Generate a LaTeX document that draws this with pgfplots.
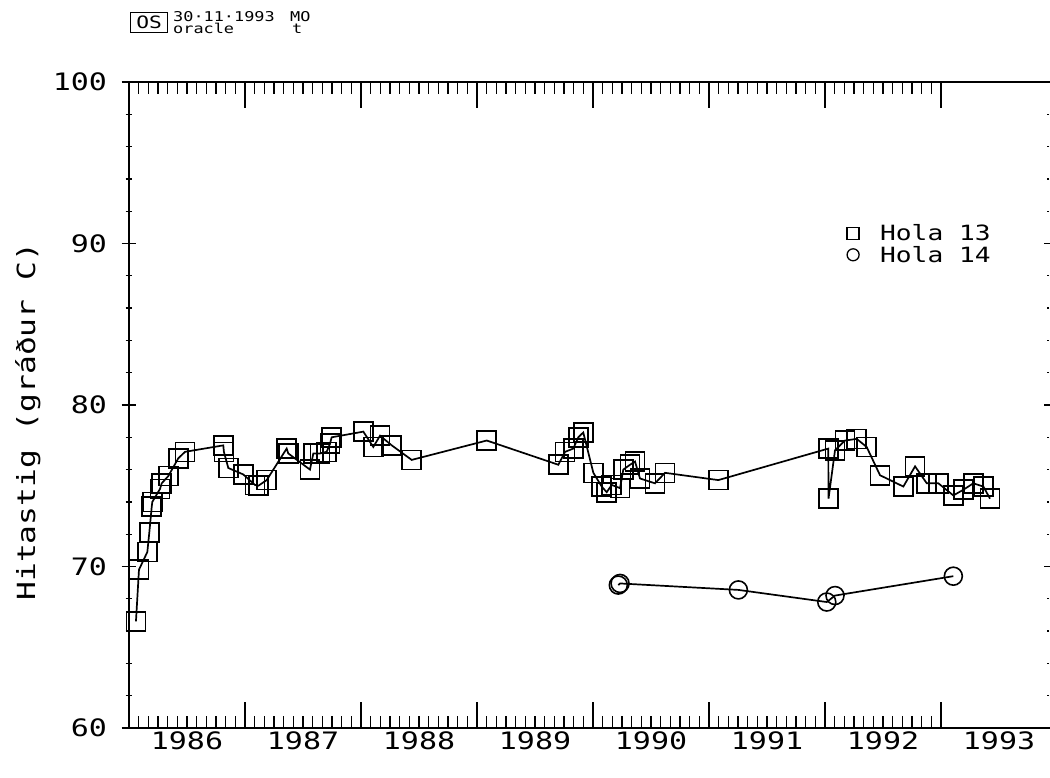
\documentclass[border=0pt]{standalone}
\usepackage{fontspec}
\setmainfont{DejaVu Sans Mono}[FakeStretch=1.25]
\usepackage{pgfplots}
\pgfplotsset{compat=1.18}
\pgfplotsset{common/.style={width=919pt, height=646pt, scale only axis,
  xmin=1986, xmax=1993.922, ymin=60, ymax=100,
  tick style={line width=1.3pt, black},
  tick align=inside}}
\begin{document}
\begin{tikzpicture}
% main axis: x axis (top + bottom) and data
\begin{axis}[common, name=ax,
  axis x line=box, axis y line=none,
  x axis line style={-, line width=1.5pt},
  xtick={1986,1987,1988,1989,1990,1991,1992,1993},
  xticklabels={1986,1987,1988,1989,1990,1991,1992,1993},
  minor x tick num=11,
  major tick length=26pt, minor tick length=12pt,
  xticklabel style={xshift=58pt, font=\fontsize{24}{28}\selectfont},
  legend style={draw=none, fill=none, at={(rel axis cs:0.779,0.786)}, anchor=north west,
    font=\fontsize{21}{25}\selectfont, row sep=0pt, inner sep=2pt,
    /tikz/every odd column/.style={column sep=19pt}},
  legend cell align=left,
]
\addplot[black, line width=1.7pt, mark=square, mark size=9.5pt, mark options={line width=1.6pt}, forget plot] coordinates {
(1986.060,66.6) (1986.086,69.8) (1986.158,70.9) (1986.175,72.1) (1986.196,73.7)
(1986.201,74.0) (1986.267,74.8) (1986.282,75.15) (1986.339,75.6) (1986.425,76.7)
(1986.483,77.1) (1986.813,77.5) (1986.818,77.1) (1986.856,76.1) (1986.985,75.7)
(1987.086,75.05) (1987.115,75.0) (1987.187,75.35) (1987.359,77.3) (1987.373,77.0)
(1987.560,76.0) (1987.589,77.0) (1987.647,77.0) (1987.704,77.1) (1987.733,77.6)
(1987.747,78.0) (1988.020,78.35) (1988.106,77.4) (1988.164,78.1) (1988.265,77.5)
(1988.437,76.6) (1989.084,77.8) (1989.701,76.3) (1989.759,77.1) (1989.830,77.3)
(1989.873,78.0) (1989.916,78.3) (1990.003,75.8) (1990.075,74.95) (1990.118,74.6)
(1990.161,75.05) (1990.233,74.85) (1990.261,76.0) (1990.319,76.3) (1990.362,76.5)
(1990.405,75.45) (1990.534,75.15) (1990.621,75.8) (1991.080,75.35) (1992.028,77.3)
(1992.030,74.2) (1992.086,77.2) (1992.172,77.8) (1992.273,77.9) (1992.359,77.4)
(1992.474,75.65) (1992.675,74.95) (1992.776,76.2) (1992.877,75.15) (1992.977,75.15)
(1993.106,74.4) (1993.192,74.75) (1993.278,75.15) (1993.365,74.95) (1993.422,74.2)
};
\addplot[black, line width=1.7pt, mark=o, mark size=9pt, mark options={line width=1.6pt}, forget plot] coordinates {
(1990.218,68.85) (1990.233,68.95) (1991.253,68.55) (1992.015,67.8) (1992.086,68.2) (1993.106,69.4)
};
\addlegendimage{only marks, black, mark=square, mark size=6pt, mark options={line width=1.3pt}}
\addlegendentry{Hola 13}
\addlegendimage{only marks, black, mark=o, mark size=6pt, mark options={line width=1.3pt}}
\addlegendentry{Hola 14}
\end{axis}
% left y axis
\begin{axis}[common,
  axis x line=none, axis y line=left,
  y axis line style={-, line width=1.5pt},
  every outer y axis line/.append style={-},
  ytick={60,70,80,90,100}, yticklabels={60,70,80,90,100},
  minor y tick num=4,
  major tick length=15pt, minor tick length=7pt,
  yticklabel style={xshift=-11pt, font=\fontsize{24}{28}\selectfont},
  ylabel={Hitastig (gráður C)},
  ylabel style={at={(rel axis cs:-0.11,0.474)}, anchor=center, rotate=0, font=\fontsize{25}{30}\selectfont},
]
\end{axis}
% right y ticks (no line)
\begin{axis}[common,
  axis x line=none, axis y line=right, y axis line style={draw=none},
  ytick={60,70,80,90,100}, yticklabels={},
  minor y tick num=4,
  major tick length=9pt, minor tick length=2pt,
]
\end{axis}
% header
\node[draw, line width=1.3pt, minimum width=37pt, minimum height=20pt, inner sep=0pt, anchor=south west,
  font=\fontsize{17}{17}\selectfont] at ([xshift=1pt,yshift=49pt]ax.north west) {OS};
\node[anchor=base west, inner sep=0pt, font=\fontsize{13.5}{14}\selectfont] at ([xshift=44pt,yshift=60pt]ax.north west) {30·11·1993};
\node[anchor=base west, inner sep=0pt, font=\fontsize{13.5}{14}\selectfont] at ([xshift=161pt,yshift=60pt]ax.north west) {MO};
\node[anchor=base west, inner sep=0pt, font=\fontsize{13.5}{14}\selectfont] at ([xshift=44pt,yshift=48pt]ax.north west) {oracle};
\node[anchor=base west, inner sep=0pt, font=\fontsize{13.5}{14}\selectfont] at ([xshift=163pt,yshift=48pt]ax.north west) {t};
\pgfresetboundingbox
\path ([xshift=-129pt,yshift=-50pt]ax.south west) rectangle ([xshift=2pt,yshift=82pt]ax.north east);
\end{tikzpicture}
\end{document}
